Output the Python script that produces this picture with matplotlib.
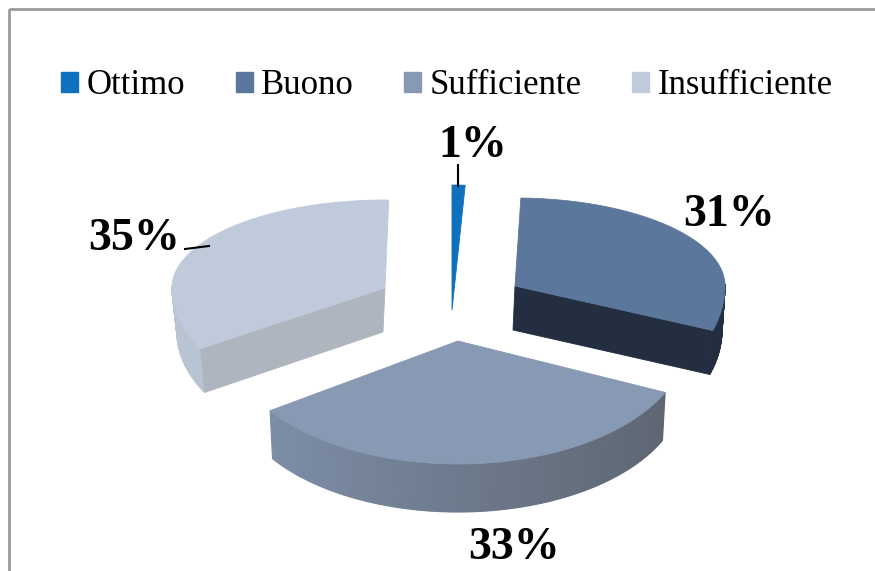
import numpy as np
import matplotlib
matplotlib.use("Agg")
from matplotlib import pyplot as plt
from matplotlib.colors import to_rgb
from matplotlib.patches import Patch, Rectangle

categories = ["Ottimo", "Buono", "Sufficiente", "Insufficiente"]
values = [1, 31, 33, 35]
value_labels = ["1%", "31%", "33%", "35%"]

top_colors = ["#0F70BE", "#5B779B", "#8899B3", "#BFCADA"]
rim_left = ["#0A5A9C", "#232F40", "#7C8DA6", "#B9C5D3"]
rim_right = ["#0A5A9C", "#232F40", "#5E6672", "#B1BAC6"]
cut_colors = ["#0A5A9C", "#232F40", "#5E6672", "#AFB5BE"]

# layout of each exploded slice, in picture pixels: tip x, tip y, a, b back, b front
shape = {
    0: (452, 310, 210, 125, 107),
    1: (515, 286, 210, 88, 132),
    2: (458, 341, 228, 100, 123),
    3: (385, 288, 213, 88, 121),
}
# perspective tweaks per slice: start and end angle shift, wall depth, wall scale, tip shift
tweak = {
    0: (0, 0, 0, 1.0, 0),
    1: (-2, -5.5, 44, 0.995, -2),
    2: (-0.5, 1.5, 48, 0.987, 0),
    3: (6, 1, 44, 0.967, -2),
}
# which radial edge shows its cut face
cut_edge = {1: -1, 3: 0}
label_pos = [(473, 146), (729, 215), (514, 548), (134, 239)]

# clockwise from north, like the chart
edges = np.cumsum([0] + values) / sum(values) * 360


def rim_point(i, ang):
    x0, y0, a, b_back, b_front = shape[i]
    r = np.radians(ang)
    c = np.cos(r)
    b = np.where(c > 0, b_back, b_front)
    return x0 + a * np.sin(r), y0 - b * c


fig = plt.figure(figsize=(8.75, 5.71), dpi=100)
ax = fig.add_axes([0, 0, 1, 1])
ax.set_xlim(0, 875)
ax.set_ylim(571, 0)
ax.axis("off")

ax.add_patch(Rectangle((9, 9), 900, 600, fill=False, ec="#999999", lw=2))


def draw_slice(i):
    x0, y0 = shape[i][:2]
    d_start, d_end, depth, scale, tip_dx = tweak[i]
    ang = np.linspace(edges[i] + d_start, edges[i + 1] + d_end, 160)
    xs, ys = rim_point(i, ang)
    bx = x0 + tip_dx + (xs - x0) * scale
    xmin, xmax = xs.min(), xs.max()
    c1, c2 = np.array(to_rgb(rim_left[i])), np.array(to_rgb(rim_right[i]))
    # outer wall, only the part facing us
    if depth > 0:
        for k in range(len(ang) - 1):
            if np.cos(np.radians((ang[k] + ang[k + 1]) / 2)) > 0.02:
                continue
            t = ((xs[k] + xs[k + 1]) / 2 - xmin) / max(xmax - xmin, 1)
            col = c1 + (c2 - c1) * t
            ax.fill([xs[k], xs[k + 1], bx[k + 1], bx[k]],
                    [ys[k], ys[k + 1], ys[k + 1] + depth, ys[k] + depth],
                    color=col, lw=0.8, zorder=2 + i)
    if i in cut_edge:
        e = cut_edge[i]
        ax.fill([x0, xs[e], bx[e], x0 + tip_dx],
                [y0, ys[e], ys[e] + depth, y0 + depth],
                color=cut_colors[i], lw=0.6, zorder=2.2 + i)
    ax.fill(np.r_[x0, xs], np.r_[y0, ys], color=top_colors[i], lw=0.6, zorder=2.5 + i)


for i in [0, 1, 3, 2]:
    draw_slice(i)

# leader lines
ax.plot([458, 458], [165, 186], color="black", lw=1.5, zorder=10)
ax.plot([185, 209], [249, 246], color="black", lw=1.5, zorder=10)

for lab, (lx, ly) in zip(value_labels, label_pos):
    ax.text(lx, ly, lab, ha="center", va="center", family="Liberation Serif",
            fontsize=33, fontweight="bold", color="black", zorder=11)

handles = [Patch(color=c, label=n) for c, n in zip(top_colors, categories)]
ax.legend(handles=handles, ncol=4, frameon=False, loc="center",
          bbox_to_anchor=(447 / 875, 1 - 86 / 571), prop={"family": "Liberation Serif", "size": 25},
          handlelength=0.49, handleheight=0.49, handletextpad=0.25, columnspacing=1.44)

fig.savefig("out.png", dpi=100)
